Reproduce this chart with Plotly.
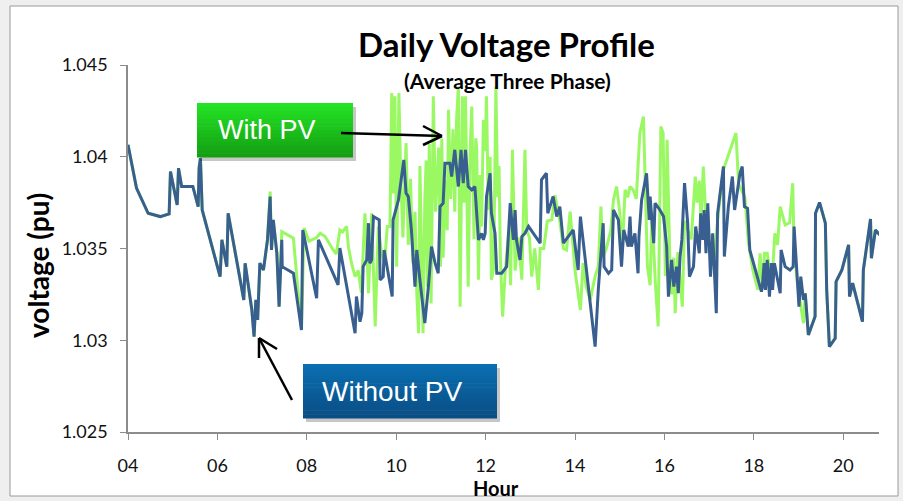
import plotly.graph_objects as go

# Without PV (blue)
hours_without = [
    4.00, 4.19, 4.45, 4.72, 4.92, 4.95, 5.10, 5.13, 5.20, 5.45, 5.57, 5.59, 5.62, 5.66,
    6.06, 6.10, 6.21, 6.24, 6.59, 6.62, 6.77, 6.82, 6.86, 6.90, 6.95, 7.03, 7.12, 7.18,
    7.21, 7.25, 7.33, 7.38, 7.44, 7.45, 7.70, 7.88, 7.91, 8.22, 8.26, 8.70, 8.74, 9.08,
    9.11, 9.19, 9.23, 9.26, 9.34, 9.38, 9.41, 9.45, 9.49, 9.62, 9.64, 9.71, 9.73, 9.80,
    9.91, 9.93, 10.05, 10.17, 10.22, 10.27, 10.34, 10.42, 10.46, 10.53, 10.64, 10.72,
    10.79, 10.87, 10.94, 10.98, 11.05, 11.09, 11.20, 11.24, 11.31, 11.39, 11.45, 11.50,
    11.55, 11.61, 11.69, 11.76, 11.80, 11.84, 11.91, 11.95, 11.99, 12.02, 12.10, 12.13,
    12.21, 12.25, 12.36, 12.47, 12.55, 12.62, 12.66, 12.69, 12.77, 12.81, 12.88, 12.96,
    13.22, 13.25, 13.36, 13.39, 13.51, 13.59, 13.66, 13.74, 13.96, 14.07, 14.12, 14.45,
    14.52, 14.63, 14.65, 14.75, 14.82, 14.86, 14.97, 15.04, 15.09, 15.19, 15.23, 15.26,
    15.34, 15.41, 15.43, 15.49, 15.60, 15.66, 15.68, 15.76, 15.79, 15.90, 15.98, 16.05,
    16.09, 16.16, 16.21, 16.27, 16.31, 16.35, 16.39, 16.45, 16.52, 16.56, 16.65, 16.70,
    16.78, 16.81, 16.86, 16.89, 16.93, 16.97, 17.03, 17.08, 17.12, 17.16, 17.19, 17.32,
    17.34, 17.43, 17.52, 17.57, 17.69, 17.74, 17.79, 17.86, 17.91, 18.17, 18.19, 18.23,
    18.26, 18.30, 18.35, 18.39, 18.42, 18.46, 18.59, 18.61, 18.70, 18.81, 18.88, 18.90,
    18.96, 19.01, 19.05, 19.11, 19.15, 19.22, 19.37, 19.38, 19.47, 19.60, 19.63, 19.69,
    19.82, 19.84, 19.97, 20.12, 20.14, 20.21, 20.43, 20.45, 20.61, 20.63, 20.72, 20.82,
]
volt_without = [
    1.04065, 1.03829, 1.03692, 1.03674, 1.03689, 1.03919, 1.03738, 1.03938, 1.03838, 1.03838, 1.03728, 1.03938, 1.03992, 1.03710,
    1.03347, 1.03547, 1.03401, 1.03692, 1.03220, 1.03420, 1.03165, 1.03020, 1.03220, 1.03111, 1.03420, 1.03383, 1.03547, 1.03783,
    1.03492, 1.03656, 1.03474, 1.03183, 1.03547, 1.03401, 1.03365, 1.03056, 1.03601, 1.03229, 1.03547, 1.03302, 1.03502, 1.03038,
    1.03238, 1.03101, 1.03147, 1.03401, 1.03438, 1.03638, 1.03420, 1.03438, 1.03674, 1.03656, 1.03329, 1.03347, 1.03492, 1.03401,
    1.03238, 1.03656, 1.03765, 1.03983, 1.03802, 1.03783, 1.03601, 1.03292, 1.03492, 1.03329, 1.03093, 1.03292,
    1.03510, 1.03420, 1.03365, 1.03728, 1.03747, 1.03965, 1.03965, 1.03892, 1.04038, 1.03838, 1.04038, 1.03856,
    1.04038, 1.03838, 1.03820, 1.03838, 1.03692, 1.03547, 1.03583, 1.03547, 1.03583, 1.03783, 1.03910, 1.03692,
    1.03583, 1.03365, 1.03365, 1.03401, 1.03747, 1.03547, 1.03710, 1.03547, 1.03438, 1.03565, 1.03583, 1.03620,
    1.03529, 1.03874, 1.03910, 1.03692, 1.03783, 1.03674, 1.03728, 1.03529, 1.03601, 1.03383, 1.03674, 1.02965,
    1.03274, 1.03638, 1.03401, 1.03365, 1.03383, 1.03710, 1.03656, 1.03401, 1.03601, 1.03510, 1.03674, 1.03510,
    1.03583, 1.03365, 1.03565, 1.03765, 1.03910, 1.03656, 1.03783, 1.03529, 1.03747, 1.03710, 1.03674, 1.03510,
    1.03238, 1.03438, 1.03292, 1.03401, 1.03256, 1.03456, 1.03547, 1.03856, 1.03638, 1.03347, 1.03401, 1.03620,
    1.03474, 1.03692, 1.03547, 1.03710, 1.03474, 1.03747, 1.03347, 1.03583, 1.03365, 1.03147, 1.03692, 1.03947,
    1.03456, 1.03728, 1.03892, 1.03710, 1.03910, 1.03947, 1.03728, 1.03719, 1.03492, 1.03265, 1.03292, 1.03420,
    1.03274, 1.03438, 1.03238, 1.03420, 1.03274, 1.03420, 1.03256, 1.03492, 1.03401, 1.03383, 1.03401, 1.03620,
    1.03383, 1.03183, 1.03347, 1.03220, 1.03256, 1.03029, 1.03129, 1.03692, 1.03751, 1.03638, 1.03274, 1.02965,
    1.03011, 1.03320, 1.03383, 1.03520, 1.03238, 1.03311, 1.03101, 1.03383, 1.03661, 1.03447, 1.03601, 1.03574,
]

# With PV (green)
hours_with = [
    4.00, 4.19, 4.45, 4.72, 4.92, 4.95, 5.10, 5.13, 5.20, 5.45, 5.57, 5.59, 5.62, 5.66,
    6.06, 6.10, 6.21, 6.24, 6.59, 6.62, 6.77, 6.82, 6.86, 6.90, 6.95, 7.03, 7.12, 7.18,
    7.21, 7.25, 7.33, 7.38, 7.44, 7.66, 7.70, 7.88, 7.94, 8.05, 8.22, 8.30, 8.41, 8.59,
    8.66, 8.74, 8.80, 8.89, 8.93, 9.00, 9.08, 9.15, 9.22, 9.30, 9.34, 9.38, 9.41, 9.45,
    9.53, 9.60, 9.67, 9.74, 9.80, 9.86, 9.90, 9.93, 9.97, 10.01, 10.06, 10.10, 10.15,
    10.22, 10.27, 10.32, 10.37, 10.42, 10.46, 10.50, 10.53, 10.57, 10.60, 10.64, 10.67,
    10.70, 10.74, 10.78, 10.83, 10.88, 10.92, 10.95, 10.99, 11.02, 11.05, 11.10, 11.14,
    11.17, 11.22, 11.27, 11.31, 11.35, 11.39, 11.43, 11.48, 11.52, 11.55, 11.58, 11.61,
    11.65, 11.69, 11.74, 11.78, 11.80, 11.84, 11.88, 11.91, 11.95, 11.99, 12.02, 12.06,
    12.10, 12.13, 12.18, 12.23, 12.27, 12.30, 12.33, 12.38, 12.44, 12.52, 12.56, 12.60,
    12.66, 12.73, 12.81, 12.88, 12.92, 12.98, 13.03, 13.10, 13.18, 13.22, 13.30, 13.38,
    13.48, 13.55, 13.66, 13.74, 13.81, 13.89, 13.94, 14.00, 14.12, 14.18, 14.25, 14.34,
    14.45, 14.52, 14.58, 14.62, 14.70, 14.80, 14.86, 14.93, 15.00, 15.06, 15.12, 15.18,
    15.23, 15.30, 15.37, 15.45, 15.53, 15.57, 15.62, 15.68, 15.72, 15.80, 15.86, 15.92,
    15.97, 16.02, 16.06, 16.12, 16.16, 16.21, 16.24, 16.30, 16.40, 16.45, 16.52, 16.60,
    16.69, 16.73, 16.78, 16.82, 16.87, 16.92, 16.98, 17.06, 17.12, 17.20, 17.32, 17.45,
    17.57, 17.60, 17.66, 17.76, 17.80, 17.88, 17.98, 18.09, 18.14, 18.19, 18.24, 18.30,
    18.40, 18.47, 18.53, 18.59, 18.70, 18.80, 18.87, 18.90, 18.98, 19.11, 19.15, 19.22,
    19.37, 19.38, 19.47, 19.60, 19.63, 19.69, 19.82, 19.84, 19.97, 20.12, 20.14, 20.21,
    20.43, 20.45, 20.61, 20.63, 20.72, 20.82,
]
volt_with = [
    1.04065, 1.03829, 1.03692, 1.03674, 1.03689, 1.03919, 1.03738, 1.03938, 1.03838, 1.03838, 1.03728, 1.03938, 1.03992, 1.03710,
    1.03347, 1.03547, 1.03401, 1.03692, 1.03220, 1.03420, 1.03165, 1.03020, 1.03220, 1.03111, 1.03420, 1.03383, 1.03547, 1.03810,
    1.03492, 1.03656, 1.03474, 1.03183, 1.03592, 1.03565, 1.03556, 1.03056, 1.03611, 1.03540, 1.03560, 1.03583, 1.03565, 1.03492,
    1.03470, 1.03601, 1.03590, 1.03620, 1.03510, 1.03420, 1.03347, 1.03380, 1.03260, 1.03692, 1.03520, 1.03256, 1.03450, 1.03692,
    1.03075, 1.03620, 1.03480, 1.03420, 1.03620, 1.03620, 1.04347, 1.03800, 1.04329, 1.03401, 1.04347, 1.03900, 1.03560,
    1.04074, 1.03520, 1.03880, 1.03420, 1.03700, 1.03256, 1.03038, 1.03950, 1.03500, 1.03038, 1.03760, 1.03980,
    1.03290, 1.04070, 1.03200, 1.04329, 1.03700, 1.03950, 1.04050, 1.03400, 1.04100, 1.03450, 1.03870, 1.03600,
    1.04256, 1.03770, 1.04150, 1.03700, 1.04200, 1.04383, 1.03183, 1.04329, 1.03750, 1.04329, 1.03850, 1.03292,
    1.04000, 1.04274, 1.03550, 1.04100, 1.04050, 1.03330, 1.03900, 1.03620, 1.04200, 1.04030, 1.04329, 1.03710,
    1.04000, 1.03330, 1.03390, 1.04383, 1.03780, 1.03950, 1.03450, 1.03129, 1.03380, 1.03600, 1.03300, 1.04038,
    1.03380, 1.03560, 1.03330, 1.04038, 1.03600, 1.03560, 1.03347, 1.03500, 1.03274, 1.03500, 1.03500, 1.03650,
    1.03656, 1.03790, 1.03650, 1.03500, 1.03492, 1.03701, 1.03560, 1.03380, 1.03165, 1.03420, 1.03290, 1.03220,
    1.03350, 1.03401, 1.03728, 1.03450, 1.03500, 1.03600, 1.03765, 1.03838, 1.03700, 1.03500, 1.03820, 1.03780,
    1.03838, 1.03820, 1.03770, 1.04129, 1.04219, 1.03800, 1.03400, 1.03300, 1.03700, 1.03300, 1.03075, 1.04165,
    1.04130, 1.03350, 1.04092, 1.03450, 1.03250, 1.03450, 1.03147, 1.03480, 1.03183, 1.03650, 1.03600, 1.03550,
    1.03892, 1.03750, 1.03870, 1.03650, 1.03947, 1.03700, 1.03570, 1.03570, 1.03450, 1.03680, 1.03930, 1.04020,
    1.04110, 1.04129, 1.03850, 1.03801, 1.03780, 1.03530, 1.03380, 1.03274, 1.03474, 1.03280, 1.03474, 1.03474,
    1.03290, 1.03583, 1.03520, 1.03728, 1.03629, 1.03640, 1.03856, 1.03500, 1.03300, 1.03093, 1.03256, 1.03029,
    1.03129, 1.03692, 1.03751, 1.03638, 1.03274, 1.02965, 1.03011, 1.03320, 1.03383, 1.03520, 1.03238, 1.03311,
    1.03101, 1.03383, 1.03661, 1.03447, 1.03601, 1.03574,
]

hour_ticks = [4, 6, 8, 10, 12, 14, 16, 18, 20]
hour_labels = ['04', '06', '08', '10', '12', '14', '16', '18', '20']
volt_ticks = [1.025, 1.03, 1.035, 1.04, 1.045]
volt_labels = ['1.025', '1.03', '1.035', '1.04', '1.045']

W, H = 903, 501
L, R, T, B = 128, 24, 65, 69
PW, PH = W - L - R, H - T - B


def px(x):
    return (x - L) / PW


def py(y):
    return (H - B - y) / PH


def mix(c1, c2, t):
    return 'rgb(%d,%d,%d)' % tuple(round(a + (b - a) * t) for a, b in zip(c1, c2))


def gradient_box(x0, y0, x1, y1, top, bottom, n=14):
    shapes = [dict(type='rect', xref='paper', yref='paper', x0=px(x0 + 3), x1=px(x1 + 3),
                   y0=py(y0 + 4), y1=py(y1 + 4), fillcolor='rgba(0,0,0,0.22)',
                   line=dict(width=0), layer='above')]
    step = (y1 - y0) / n
    for i in range(n):
        shapes.append(dict(type='rect', xref='paper', yref='paper', x0=px(x0), x1=px(x1),
                           y0=py(y0 + i * step), y1=py(y0 + (i + 1) * step + 0.5),
                           fillcolor=mix(top, bottom, i / (n - 1)),
                           line=dict(width=0), layer='above'))
    return shapes


def seg(x0, y0, x1, y1):
    return dict(type='line', xref='paper', yref='paper', x0=px(x0), y0=py(y0), x1=px(x1), y1=py(y1),
                line=dict(color='black', width=2.5), layer='above')


fig = go.Figure()
fig.add_trace(go.Scatter(x=hours_with, y=volt_with, mode='lines', name='With PV',
                         line=dict(color='#9af863', width=3)))
fig.add_trace(go.Scatter(x=hours_without, y=volt_without, mode='lines', name='Without PV',
                         line=dict(color='#385f8f', width=3)))

shapes = [dict(type='rect', xref='paper', yref='paper', x0=px(10), x1=px(898), y0=py(6), y1=py(496),
               fillcolor='white', line=dict(color='#9a9a9a', width=1), layer='below')]
shapes += gradient_box(197, 103, 353, 157, (36, 226, 36), (18, 160, 18))
shapes += gradient_box(303, 364, 497, 418, (10, 110, 176), (10, 78, 134))
# arrows
shapes += [seg(341, 133, 442, 136), seg(442, 136, 423, 126), seg(442, 136, 423, 145),
           seg(292, 400, 259, 338), seg(259, 338, 259, 358), seg(259, 338, 277, 349)]

annotations = [
    dict(text='<b>Daily Voltage Profile</b>', x=px(506), y=py(44), font=dict(size=33)),
    dict(text='<b>(Average Three Phase)</b>', x=px(507), y=py(80), font=dict(size=21)),
    dict(text='<b>voltage (pu)</b>', x=px(38), y=py(266), textangle=-90, font=dict(size=28)),
    dict(text='<b>Hour</b>', x=px(496), y=py(488), font=dict(size=20)),
    dict(text='With PV', x=px(267), y=py(130),
         font=dict(size=27, color='white', family='Liberation Sans, Arial, sans-serif')),
    dict(text='Without PV', x=px(392), y=py(391),
         font=dict(size=28, color='white', family='Liberation Sans, Arial, sans-serif')),
]
for a in annotations:
    a.update(xref='paper', yref='paper', showarrow=False, xanchor='center', yanchor='middle')

fig.update_layout(
    width=W, height=H,
    margin=dict(l=L, r=R, t=T, b=B),
    paper_bgcolor='#efefef', plot_bgcolor='white',
    showlegend=False,
    font=dict(family='Lato, Open Sans, sans-serif', color='black', size=18),
    shapes=shapes, annotations=annotations,
)
fig.update_xaxes(range=[4, 20.8], tickvals=hour_ticks, ticktext=hour_labels,
                 showgrid=False, zeroline=False, showline=True, linecolor='#8c8c8c', linewidth=1.5,
                 ticks='outside', ticklen=6, tickcolor='#8c8c8c', ticklabelstandoff=11,
                 tickfont=dict(size=18, color='#111'))
fig.update_yaxes(range=[1.025, 1.045], tickvals=volt_ticks, ticktext=volt_labels,
                 showgrid=False, zeroline=False, showline=True, linecolor='#8c8c8c', linewidth=1.5,
                 ticks='outside', ticklen=6, tickcolor='#8c8c8c', ticklabelstandoff=9,
                 tickfont=dict(size=18, color='#111'))

fig.write_html('out.html', config={'displayModeBar': False},
               post_script="document.body.style.margin='0px';")
